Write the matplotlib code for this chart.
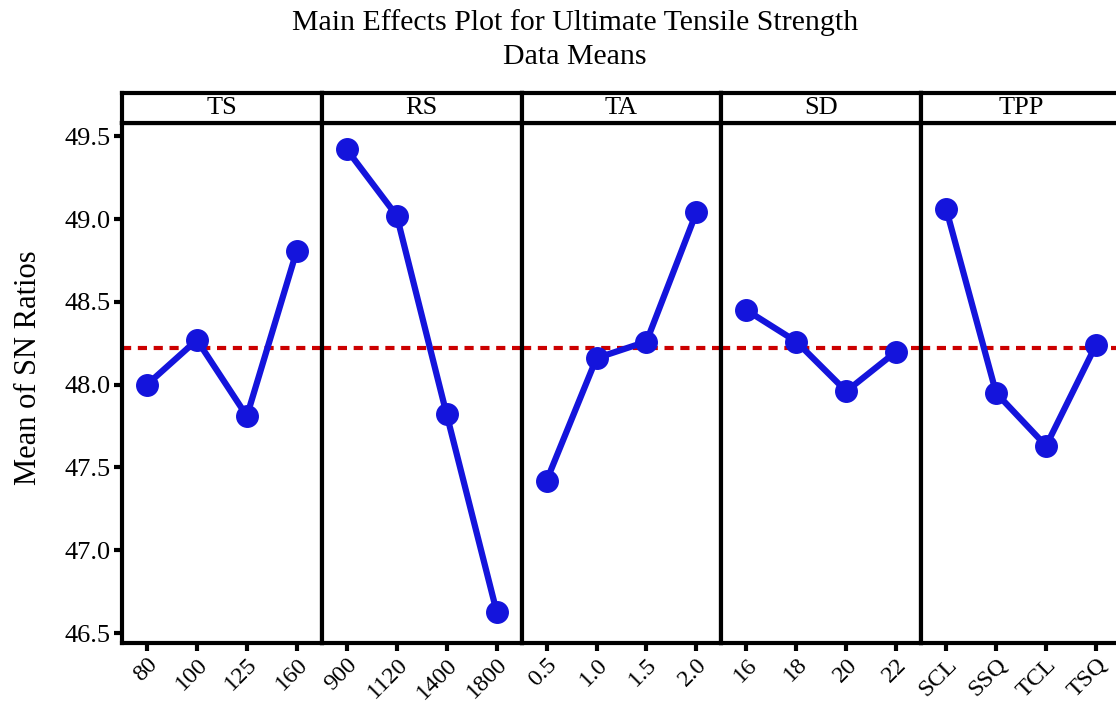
import matplotlib
matplotlib.use("Agg")
import matplotlib.pyplot as plt

plt.rcParams['font.family'] = ['Liberation Serif', 'DejaVu Serif']

factors = ['TS', 'RS', 'TA', 'SD', 'TPP']
levels = [
    ['80', '100', '125', '160'],
    ['900', '1120', '1400', '1800'],
    ['0.5', '1.0', '1.5', '2.0'],
    ['16', '18', '20', '22'],
    ['SCL', 'SSQ', 'TCL', 'TSQ'],
]
sn_means = [
    [48.00, 48.27, 47.81, 48.81],
    [49.42, 49.02, 47.82, 46.63],
    [47.42, 48.16, 48.26, 49.04],
    [48.45, 48.26, 47.96, 48.20],
    [49.06, 47.95, 47.63, 48.24],
]
grand_mean = 48.22

fig = plt.figure(figsize=(11.16, 7.06), dpi=100)

left = 122 / 1116
width = 199.8 / 1116
bottom = 1 - 643 / 706
height = (643 - 123) / 706
head_h = 30 / 706

blue = '#1414DC'
for i, (name, labs, vals) in enumerate(zip(factors, levels, sn_means)):
    x0 = left + i * width
    ax = fig.add_axes([x0, bottom, width, height])
    xs = list(range(len(vals)))
    ax.plot(xs, vals, color=blue, lw=4.5, marker='o', ms=15.5, zorder=3)
    ax.axhline(grand_mean, color='#CC0000', lw=3, ls=(0, (2.2, 1.6)), zorder=2)
    ax.set_xlim(-0.5, 3.5)
    ax.set_ylim(46.44, 49.58)
    ax.set_xticks(xs)
    ax.set_xticklabels(labs, rotation=45, ha='right', va='top',
                       rotation_mode='anchor', fontsize=17.5)
    ax.tick_params(axis='x', length=6, width=3, pad=2)
    for sp in ax.spines.values():
        sp.set_linewidth(3)
    if i == 0:
        ax.set_yticks([46.5, 47.0, 47.5, 48.0, 48.5, 49.0, 49.5])
        ax.set_yticklabels(['46.5', '47.0', '47.5', '48.0', '48.5', '49.0', '49.5'],
                           fontsize=19)
        ax.tick_params(axis='y', length=6, width=3, pad=2)
        ax.set_ylabel('Mean of SN Ratios', fontsize=22)
        ax.yaxis.set_label_coords(-0.395, 0.53)
    else:
        ax.set_yticks([])

    hd = fig.add_axes([x0, bottom + height, width, head_h])
    hd.set_xticks([])
    hd.set_yticks([])
    for sp in hd.spines.values():
        sp.set_linewidth(3)
    hd.text(0.5, 0.5, name, ha='center', va='center', fontsize=19,
            transform=hd.transAxes)

fig.text(575 / 1116, 1 - 23 / 706, 'Main Effects Plot for Ultimate Tensile Strength',
         ha='center', va='center', fontsize=21.5)
fig.text(575 / 1116, 1 - 57 / 706, 'Data Means', ha='center', va='center', fontsize=21.5)

fig.savefig('out.png', dpi=100)
